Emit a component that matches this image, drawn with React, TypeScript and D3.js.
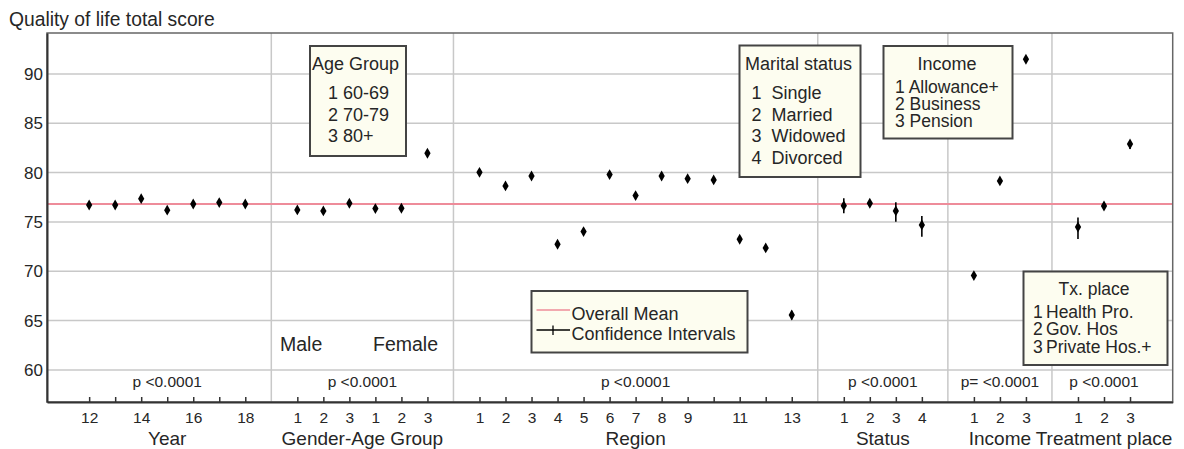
import React, { useEffect, useRef } from "react";
import * as d3 from "d3";

// ---- data ----
const overallMean = 76.82;

const yearCats = ["12", "13", "14", "15", "16", "17", "18"];
const yearTickText = ["12", "", "14", "", "16", "", "18"];
const yearMean = [76.72, 76.72, 77.36, 76.19, 76.82, 76.96, 76.82];
const yearLo = [76.45, 76.45, 77.05, 75.9, 76.55, 76.7, 76.55];
const yearHi = [77.0, 77.0, 77.65, 76.5, 77.1, 77.25, 77.1];

const genderCats = ["1", "2", "3", "1", "2", "3"];
const genderMean = [76.22, 76.12, 76.89, 76.35, 76.39, 81.96];
const genderLo = [75.95, 75.85, 76.6, 76.05, 76.1, 81.7];
const genderHi = [76.5, 76.4, 77.2, 76.65, 76.7, 82.25];

const regionCats = ["1", "2", "3", "4", "5", "6", "7", "8", "9", "10", "11", "12", "13"];
const regionTickText = ["1", "2", "3", "4", "5", "6", "7", "8", "9", "", "11", "", "13"];
const regionMean = [80.03, 78.65, 79.66, 72.74, 74.02, 79.8, 77.67, 79.66, 79.39, 79.26, 73.25, 72.37, 65.57];
const regionLo = [79.75, 78.4, 79.4, 72.5, 73.75, 79.55, 77.4, 79.4, 79.15, 79.0, 73.0, 72.1, 65.1];
const regionHi = [80.3, 78.9, 79.95, 73.0, 74.3, 80.1, 77.95, 79.95, 79.65, 79.55, 73.5, 72.65, 66.0];

const statusCats = ["1", "2", "3", "4"];
const statusMean = [76.65, 76.89, 76.12, 74.7];
const statusLo = [75.88, 76.6, 75.03, 73.51];
const statusHi = [77.4, 77.15, 77.0, 75.61];

const incomeCats = ["1", "2", "3"];
const incomeMean = [69.56, 79.16, 91.49];
const incomeLo = [69.35, 78.95, 91.3];
const incomeHi = [69.8, 79.4, 91.7];

const treatCats = ["1", "2", "3"];
const treatMean = [74.49, 76.62, 82.9];
const treatLo = [73.28, 76.4, 82.4];
const treatHi = [75.44, 76.85, 83.2];

const groupNames = ["Year", "Gender-Age Group", "Region", "Status", "Income", "Treatment place"];
const pTexts = ["p <0.0001", "p <0.0001", "p <0.0001", "p <0.0001", "p= <0.0001", "p <0.0001"];
const yTicks = [60, 65, 70, 75, 80, 85, 90];

const FONT = "'Liberation Sans', Arial, sans-serif";
const TEXT = "#262626";

export default function App() {
  const ref = useRef<SVGSVGElement>(null);

  useEffect(() => {
    const width = 1184;
    const height = 449;
    const svg = d3.select(ref.current);
    svg.selectAll("*").remove();

    // build group table; one empty slot between groups
    const raw = [
      { cats: yearCats, ticks: yearTickText, mean: yearMean, lo: yearLo, hi: yearHi },
      { cats: genderCats, ticks: genderCats, mean: genderMean, lo: genderLo, hi: genderHi },
      { cats: regionCats, ticks: regionTickText, mean: regionMean, lo: regionLo, hi: regionHi },
      { cats: statusCats, ticks: statusCats, mean: statusMean, lo: statusLo, hi: statusHi },
      { cats: incomeCats, ticks: incomeCats, mean: incomeMean, lo: incomeLo, hi: incomeHi },
      { cats: treatCats, ticks: treatCats, mean: treatMean, lo: treatLo, hi: treatHi },
    ];
    let pos = 1;
    const points: any[] = [];
    const groups: any[] = [];
    const separators: number[] = [];
    raw.forEach((g, gi) => {
      const start = pos;
      g.cats.forEach((c, i) => {
        points.push({ k: pos, label: g.ticks[i], mean: g.mean[i], lo: g.lo[i], hi: g.hi[i] });
        pos++;
      });
      groups.push({ name: groupNames[gi], p: pTexts[gi], center: (start + pos - 1) / 2 });
      if (gi < raw.length - 1) {
        separators.push(pos);
        pos++;
      }
    });

    const left = 47, right = 1172.7, top = 33, bottom = 402;
    const x = d3.scaleLinear().domain([-0.62, pos - 1 + 1.64]).range([left, right]);
    const y = d3.scaleLinear().domain([56.75, 94.15]).range([bottom, top]);

    // title
    svg.append("text")
      .attr("x", 9).attr("y", 26)
      .attr("font-size", 19.3).attr("fill", TEXT)
      .text("Quality of life total score");

    // grid
    svg.append("g").selectAll("line").data(yTicks).join("line")
      .attr("x1", left).attr("x2", right)
      .attr("y1", d => y(d)).attr("y2", d => y(d))
      .attr("stroke", "#c8c8c8").attr("stroke-width", 1.5);
    svg.append("g").selectAll("line").data(separators).join("line")
      .attr("x1", d => x(d)).attr("x2", d => x(d))
      .attr("y1", top).attr("y2", bottom)
      .attr("stroke", "#c8c8c8").attr("stroke-width", 1.5);

    // mean line
    svg.append("line")
      .attr("x1", left).attr("x2", right)
      .attr("y1", y(overallMean)).attr("y2", y(overallMean))
      .attr("stroke", "#ee8c9a").attr("stroke-width", 1.8);

    // frame
    svg.append("rect")
      .attr("x", left).attr("y", top)
      .attr("width", right - left).attr("height", bottom - top)
      .attr("fill", "none").attr("stroke", "#666").attr("stroke-width", 1.5);

    // y axis
    const yAxis = svg.append("g")
      .attr("transform", `translate(${left},0)`)
      .call(d3.axisLeft(y).tickValues(yTicks).tickSize(0).tickPadding(4));
    yAxis.select(".domain").attr("stroke", "#333").attr("stroke-width", 2);
    yAxis.selectAll("text").attr("font-size", 17).attr("font-family", FONT).attr("fill", TEXT);

    // x axis
    const xAxis = svg.append("g")
      .attr("transform", `translate(0,${bottom})`)
      .call(
        d3.axisBottom(x)
          .tickValues(points.map(p => p.k))
          .tickSizeInner(-5)
          .tickSizeOuter(0)
          .tickPadding(10)
          .tickFormat((d, i) => points[i].label)
      );
    xAxis.select(".domain").attr("stroke", "#333").attr("stroke-width", 2);
    xAxis.selectAll(".tick line").attr("stroke", "#333").attr("stroke-width", 1.5);
    xAxis.selectAll("text").attr("font-size", 15.5).attr("font-family", FONT).attr("fill", TEXT);

    // group labels and p values
    svg.append("g").selectAll("text").data(groups).join("text")
      .attr("x", d => x(d.center)).attr("y", 444.5)
      .attr("text-anchor", "middle").attr("font-size", 19).attr("fill", TEXT)
      .text(d => d.name);
    svg.append("g").selectAll("text").data(groups).join("text")
      .attr("x", d => x(d.center)).attr("y", 386.5)
      .attr("text-anchor", "middle").attr("font-size", 15.5).attr("fill", TEXT)
      .text(d => d.p);

    // Male / Female
    svg.append("text").attr("x", 280).attr("y", 350.5).attr("font-size", 19.5).attr("fill", TEXT).text("Male");
    svg.append("text").attr("x", 373).attr("y", 350.5).attr("font-size", 19.5).attr("fill", TEXT).text("Female");

    // confidence intervals + means
    const pts = svg.append("g");
    pts.selectAll("line").data(points).join("line")
      .attr("x1", d => x(d.k)).attr("x2", d => x(d.k))
      .attr("y1", d => y(d.lo)).attr("y2", d => y(d.hi))
      .attr("stroke", "#000").attr("stroke-width", 1.6);
    pts.selectAll("path").data(points).join("path")
      .attr("transform", d => `translate(${x(d.k)},${y(d.mean)})`)
      .attr("d", d3.symbol(d3.symbolDiamond, 34)() as string)
      .attr("fill", "#000");

    // legend boxes
    const box = (bx: number, by: number, bw: number, bh: number) =>
      svg.append("rect").attr("x", bx).attr("y", by).attr("width", bw).attr("height", bh)
        .attr("fill", "#fdfdf0").attr("stroke", "#444").attr("stroke-width", 2);
    const txt = (tx: number, ty: number, s: string, size = 18, anchor = "start") =>
      svg.append("text").attr("x", tx).attr("y", ty).attr("font-size", size)
        .attr("text-anchor", anchor).attr("fill", TEXT).text(s);

    box(310, 46, 96, 110);
    txt(312, 70, "Age Group");
    txt(328, 99.3, "1 60-69");
    txt(328, 120.7, "2 70-79");
    txt(328, 141.7, "3 80+");

    box(739.5, 45.5, 121, 131.5);
    txt(745, 70, "Marital status");
    const marital = ["Single", "Married", "Widowed", "Divorced"];
    marital.forEach((m, i) => {
      txt(751.5, 99 + i * 21.5, String(i + 1));
      txt(771.5, 99 + i * 21.5, m);
    });

    box(883.5, 46, 129, 92.5);
    txt(947, 70, "Income", 18, "middle");
    txt(895, 92.7, "1 Allowance+", 17.5);
    txt(895, 110, "2 Business", 17.5);
    txt(895, 126.7, "3 Pension", 17.5);

    box(1023.5, 271.5, 144, 93.5);
    txt(1094, 295, "Tx. place", 17.5, "middle");
    const tx = ["Health Pro.", "Gov. Hos", "Private Hos.+"];
    tx.forEach((t, i) => {
      txt(1033, 317.7 + i * 17.5, String(i + 1), 17.5);
      txt(1046, 317.7 + i * 17.5, t, 17.5);
    });

    box(531.5, 291, 216, 61.5);
    svg.append("line").attr("x1", 536.5).attr("x2", 570).attr("y1", 310).attr("y2", 310)
      .attr("stroke", "#ee8c9a").attr("stroke-width", 1.6);
    svg.append("line").attr("x1", 536.5).attr("x2", 570).attr("y1", 330).attr("y2", 330)
      .attr("stroke", "#000").attr("stroke-width", 1.3);
    svg.append("line").attr("x1", 553).attr("x2", 553).attr("y1", 325.5).attr("y2", 335)
      .attr("stroke", "#000").attr("stroke-width", 1.3);
    txt(571.5, 320, "Overall Mean");
    txt(571.5, 340, "Confidence Intervals");

    svg.attr("width", width).attr("height", height);
  }, []);

  return (
    <svg
      ref={ref}
      width={1184}
      height={449}
      style={{ position: "absolute", left: 0, top: 0, background: "#fff", fontFamily: FONT }}
    />
  );
}
